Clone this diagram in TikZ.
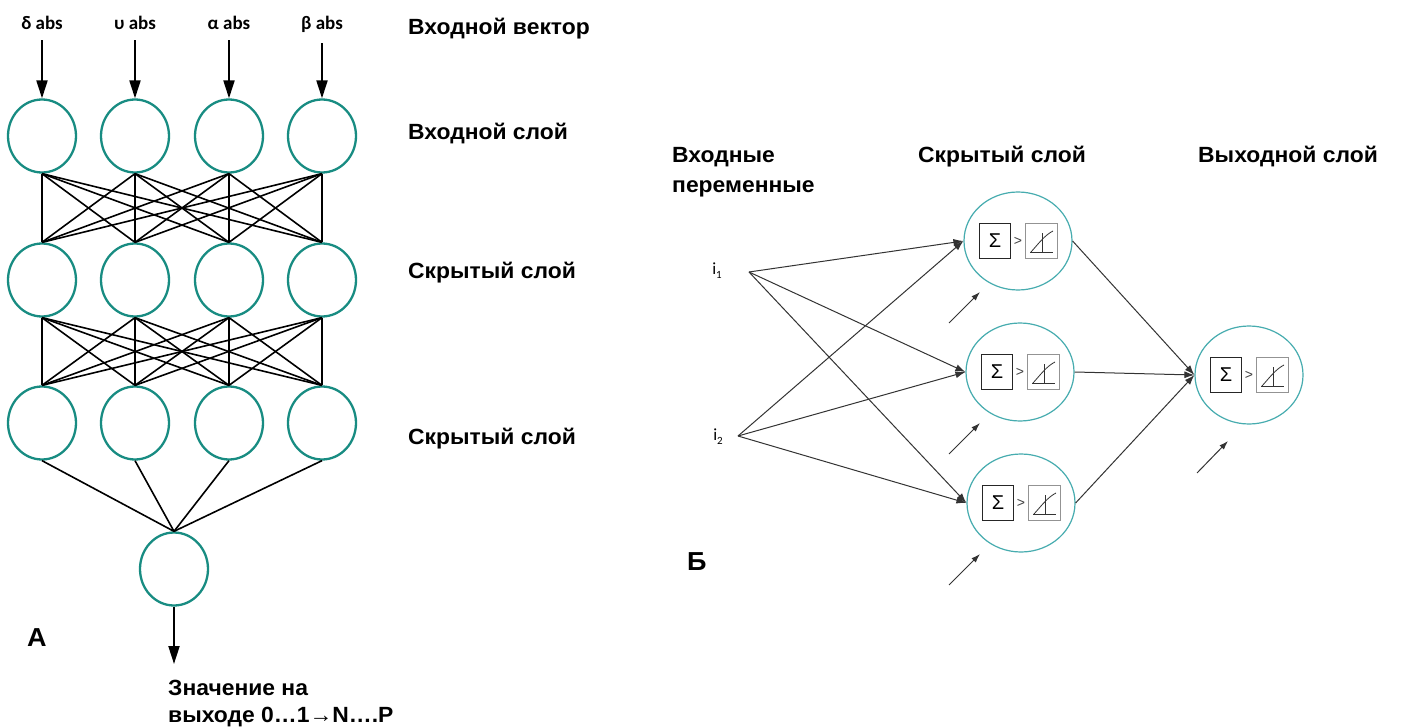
\documentclass[tikz,border=0pt]{standalone}
\usepackage{fontspec}
\setmainfont{Liberation Sans}
\newfontfamily\lab[FakeStretch=1.04]{Liberation Sans}
\newfontfamily\carl{Carlito}
\usetikzlibrary{shapes.geometric,arrows.meta}
\definecolor{tealL}{RGB}{24,140,130}
\definecolor{tealR}{RGB}{70,172,175}
\begin{document}
\begin{tikzpicture}[x=1pt,y=-1pt,
  lneu/.style={ellipse,draw=tealL,line width=2.3pt,minimum width=68pt,minimum height=73pt,inner sep=0pt},
  rneu/.style={ellipse,draw=tealR,line width=1.2pt,minimum width=108pt,minimum height=98pt,inner sep=0pt},
  lbl/.style={font=\lab\fontsize{22}{26}\selectfont\bfseries,anchor=base west,inner sep=0pt},
  big/.style={font=\lab\fontsize{26}{30}\selectfont\bfseries,anchor=base west,inner sep=0pt},
  inl/.style={font=\carl\fontsize{19}{22}\selectfont\bfseries,anchor=base,inner sep=0pt},
  lw/.style={line width=1.6pt,black},
  inarr/.style={line width=2pt,-{Triangle[length=18pt,width=11pt]}},
  sbox/.style={draw=black!85,line width=0.9pt,minimum width=31pt,minimum height=35pt,inner sep=0pt,font=\fontsize{20}{20}\selectfont},
  abox/.style={draw=gray!85,line width=0.9pt,minimum width=32pt,minimum height=35pt,inner sep=0pt},
  gt/.style={font=\fontsize{14}{14}\selectfont,text=black!75,inner sep=0pt},
  rc/.style={line width=1pt,black!80,-{Latex[length=10pt,width=7pt]}},
  bc/.style={line width=1pt,black!80,-{Latex[length=9pt,width=6pt]}},
  ilab/.style={font=\carl\fontsize{17}{19}\selectfont,inner sep=0pt}
]
\fill[white] (0,0) rectangle (1402,727);
\useasboundingbox (0,0) rectangle (1402,727);

% ---------- Panel A ----------
\foreach \n/\x/\t in {1/42/{δ abs},2/135/{υ abs},3/229/{α abs},4/322/{β abs}}
  \node[inl] (in\n) at (\x,30) {\t};
\foreach \n/\x in {1/42,2/135,3/229,4/322}{
  \node[lneu] (a\n) at (\x,136) {};
  \node[lneu] (b\n) at (\x,280) {};
  \node[lneu] (c\n) at (\x,423) {};
}
\node[lneu] (o) at (174,569) {};
\foreach \i in {1,...,4}{
  \draw[inarr] ([yshift=-10pt]in\i.south) -- (a\i.north);
  \foreach \j in {1,...,4}{
    \draw[lw] (a\i.south) -- (b\j.north);
    \draw[lw] (b\i.south) -- (c\j.north);
  }
  \draw[lw] (c\i.south) -- (o.north);
}
\coordinate (oend) at (174,664);
\draw[inarr] (o.south) -- (oend);

\node[lbl] (t1) at (408,35) {Входной вектор};
\node[lbl] (t2) at (408,140) {Входной слой};
\node[lbl] (t3) at (408,278) {Скрытый слой};
\node[lbl] (t4) at (408,444) {Скрытый слой};
\node[big] (lA) at (27,646) {А};
\node[lbl] (res1) at (168,695) {Значение на};
\node[lbl] (res2) at (168,722) {выходе 0…1→N….P};

% ---------- Panel B ----------
\newcommand\rneuron[3]{%
  \node[rneu] (#1) at (#2,#3) {};
  \node[sbox] (#1s) at (#2-23,#3) {Σ};
  \node[gt] (#1g) at (#2,#3) {>};
  \node[abox] (#1a) at (#2+23,#3) {};
  \begin{scope}[shift={(#1a.center)},line width=0.8pt,black!80]
    \draw (-11,11) -- (12,11);
    \draw (1,11) -- (1,-8);
    \draw (-10,11) .. controls (-2,2) and (4,-6) .. (12,-10);
  \end{scope}
}
\rneuron{n1}{1018}{241}
\rneuron{n2}{1020}{372}
\rneuron{n3}{1021}{503}
\rneuron{out}{1249}{375}

\node[lbl] (h1) at (672,163) {Входные};
\node[lbl] (h2) at (672,193) {переменные};
\node[lbl] (h3) at (918,163) {Скрытый слой};
\node[lbl] (h4) at (1198,163) {Выходной слой};
\node[big] (lB) at (687,570) {Б};

\coordinate (i1) at (749,272);
\coordinate (i2) at (738,436);
\node[ilab] (i1l) at (717,271) {i\raisebox{-4pt}{\fontsize{11}{12}\selectfont 1}};
\node[ilab] (i2l) at (718,437) {i\raisebox{-4pt}{\fontsize{11}{12}\selectfont 2}};
\foreach \s in {i1,i2}
  \foreach \t in {n1,n2,n3}
    \draw[rc] (\s) -- (\t.west);
\foreach \t in {n1,n2,n3}
  \draw[rc] (\t.east) -- (out.west);

\coordinate (b1s) at (949,323); \coordinate (b1e) at (980,292);
\coordinate (b2s) at (949,454); \coordinate (b2e) at (980,423);
\coordinate (b3s) at (949,585); \coordinate (b3e) at (980,554);
\coordinate (b4s) at (1197,473); \coordinate (b4e) at (1228,441);
\foreach \k in {1,...,4}
  \draw[bc] (b\k s) -- (b\k e);
\end{tikzpicture}
\end{document}
